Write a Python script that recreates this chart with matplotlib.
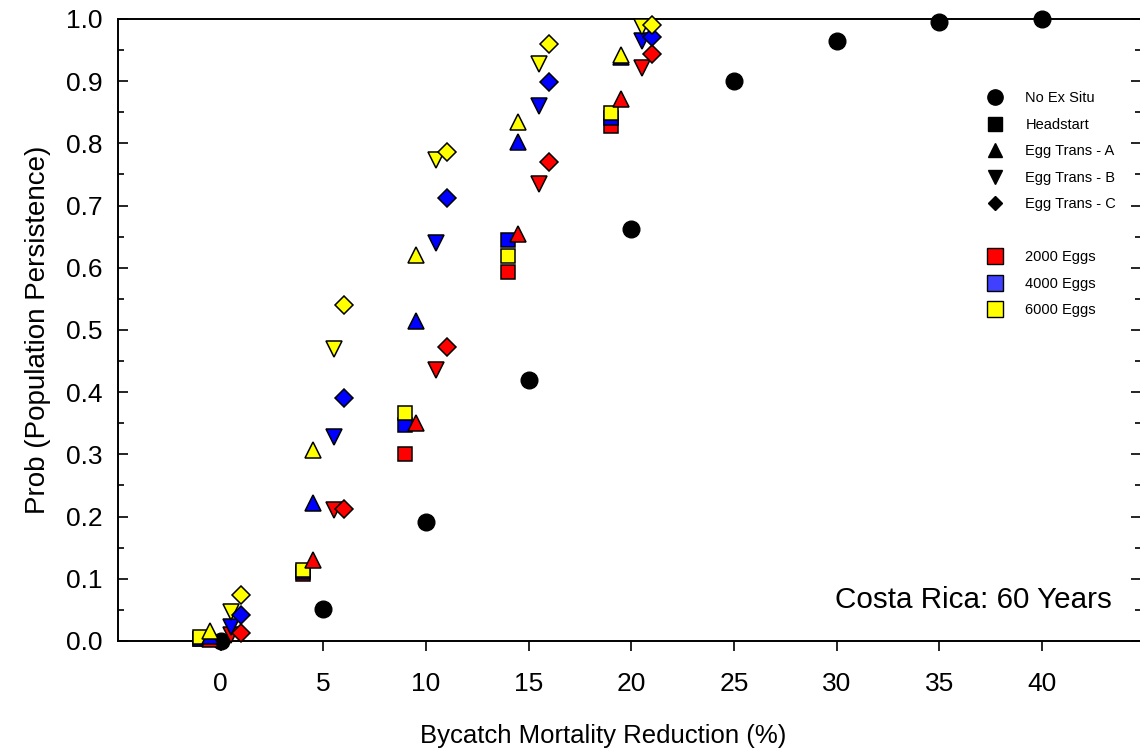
#persistence vs bycatch reduction, costa rica 60 yr
import matplotlib
matplotlib.use('Agg')
import matplotlib.pyplot as plt
from matplotlib.lines import Line2D
from matplotlib.ticker import MultipleLocator, FormatStrFormatter

plt.rcParams['font.family'] = ['Liberation Sans', 'DejaVu Sans']

#reduction levels (%)
no_ex_x = [0, 5, 10, 15, 20, 25, 30, 35, 40]
no_ex_y = [0.0, 0.051, 0.191, 0.42, 0.662, 0.90, 0.965, 0.995, 1.0]

levels = [0, 5, 10, 15, 20]

#headstart
hs_2000 = [0.003, 0.108, 0.30, 0.593, 0.828]
hs_4000 = [0.004, 0.111, 0.347, 0.645, 0.84]
hs_6000 = [0.006, 0.114, 0.366, 0.619, 0.849]

#egg trans - A
ea_2000 = [0.004, 0.13, 0.35, 0.654, 0.871]
ea_4000 = [0.008, 0.222, 0.514, 0.802, 0.938]
ea_6000 = [0.016, 0.307, 0.62, 0.834, 0.942]

#egg trans - B
eb_2000 = [0.01, 0.21, 0.436, 0.735, 0.921]
eb_4000 = [0.023, 0.328, 0.64, 0.86, 0.965]
eb_6000 = [0.047, 0.469, 0.773, 0.928, 0.987]

#egg trans - C
ec_2000 = [0.013, 0.212, 0.473, 0.770, 0.944]
ec_4000 = [0.042, 0.391, 0.712, 0.899, 0.971]
ec_6000 = [0.074, 0.540, 0.786, 0.96, 0.99]

red = '#ff0000'
blue = '#0000ff'
yellow = '#ffff00'

fig = plt.figure(figsize=(11.4, 7.55), dpi=100)
ax = fig.add_axes([0.1035, 0.151, 0.897, 0.824])

# scenario -> (marker, size, x shift so the symbols don't pile up, series)
scenarios = [
    ('s', 10, -1.0, [hs_2000, hs_4000, hs_6000]),
    ('^', 11, -0.5, [ea_2000, ea_4000, ea_6000]),
    ('v', 11, 0.5, [eb_2000, eb_4000, eb_6000]),
    ('D', 9, 1.0, [ec_2000, ec_4000, ec_6000]),
]

ax.plot(no_ex_x, no_ex_y, 'o', color='black', ms=12, clip_on=False, zorder=3)

for mk, ms, shift, series in scenarios:
    xs = [l + shift for l in levels]
    for vals, c in zip(series, [red, blue, yellow]):
        ax.plot(xs, vals, mk, mfc=c, mec='black', mew=1.1, ms=ms,
                clip_on=False, zorder=3)

ax.set_xlim(-5, 44.8)
ax.set_ylim(0, 1.0)
ax.set_xticks(range(0, 41, 5))
ax.yaxis.set_major_locator(MultipleLocator(0.1))
ax.yaxis.set_minor_locator(MultipleLocator(0.05))
ax.yaxis.set_major_formatter(FormatStrFormatter('%.1f'))

ax.tick_params(axis='x', direction='out', length=7, width=1.2, labelsize=19, pad=15)
ax.tick_params(axis='y', which='major', direction='in', length=7, width=1.2,
               right=True, labelsize=19, pad=11)
ax.tick_params(axis='y', which='minor', direction='in', length=4.5, width=1.2,
               right=True)

for s in ax.spines.values():
    s.set_linewidth(1.4)
ax.spines['right'].set_visible(False)

ax.set_xlabel('Bycatch Mortality Reduction (%)', fontsize=18.5)
ax.xaxis.set_label_coords(0.474, -0.133)
ax.set_ylabel('Prob (Population Persistence)', fontsize=20, labelpad=11)

ax.text(0.972, 0.066, 'Costa Rica: 60 Years', transform=ax.transAxes,
        fontsize=21.3, ha='right', va='center')

handles = [
    Line2D([], [], ls='', marker='o', color='black', ms=11),
    Line2D([], [], ls='', marker='s', color='black', ms=10),
    Line2D([], [], ls='', marker='^', color='black', ms=10),
    Line2D([], [], ls='', marker='v', color='black', ms=10),
    Line2D([], [], ls='', marker='D', color='black', ms=7.5),
    Line2D([], [], ls='', marker=''),
    Line2D([], [], ls='', marker='s', mfc=red, mec='black', ms=11),
    Line2D([], [], ls='', marker='s', mfc='#4040ff', mec='black', ms=11),
    Line2D([], [], ls='', marker='s', mfc=yellow, mec='black', ms=11),
]
labels = ['No Ex Situ', 'Headstart', 'Egg Trans - A', 'Egg Trans - B',
          'Egg Trans - C', '', '2000 Eggs', '4000 Eggs', '6000 Eggs']
ax.legend(handles, labels, loc='upper left', bbox_to_anchor=(0.836, 0.905),
          frameon=False, fontsize=10.5, labelspacing=0.86, handletextpad=1.5,
          handlelength=1.2)

fig.savefig('out.png', dpi=100)
